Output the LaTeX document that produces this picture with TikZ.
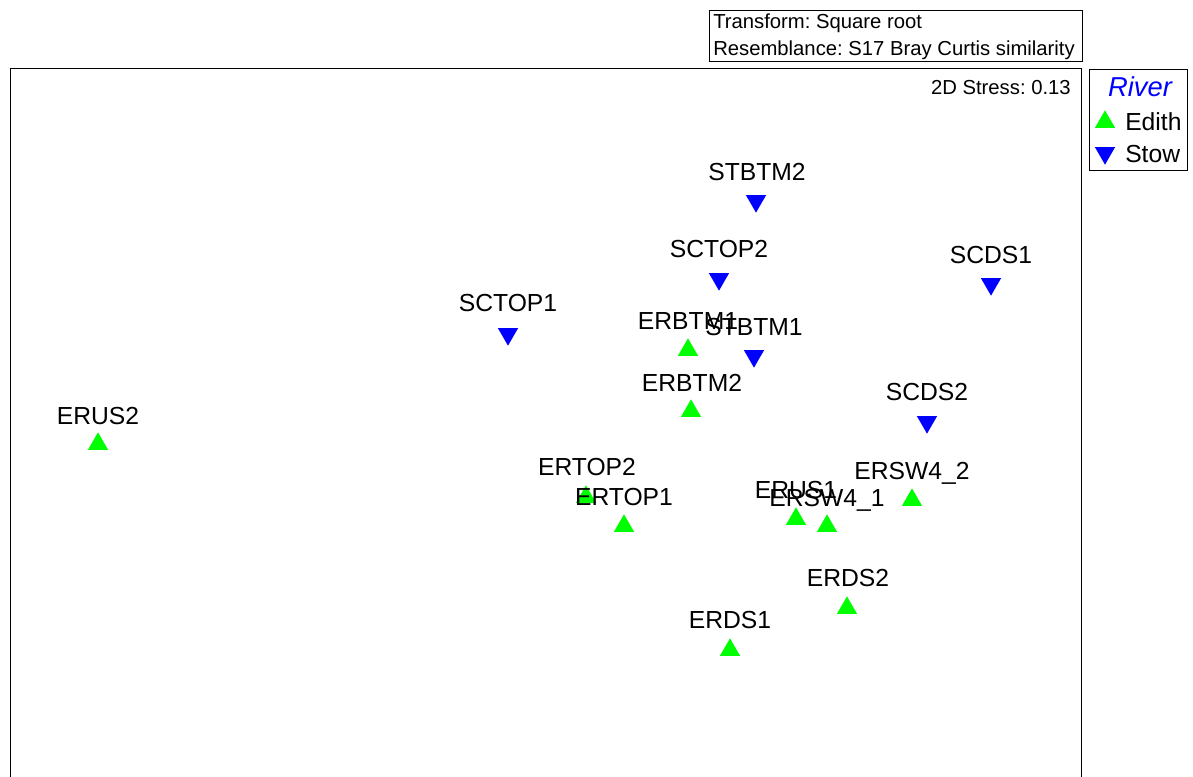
\documentclass[tikz,border=0pt]{standalone}
\usepackage{fontspec}
\setmainfont{Liberation Sans}
\usetikzlibrary{shapes.geometric}
\definecolor{edithgreen}{RGB}{0,255,0}
\definecolor{stowblue}{RGB}{0,0,255}
\frenchspacing
\begin{document}
\begin{tikzpicture}[x=0.75pt,y=-0.75pt,
  frameline/.style={draw=black,line width=0.75pt},
  upmark/.style={regular polygon,regular polygon sides=3,fill=edithgreen,draw=none,inner sep=0pt,minimum size=17.5pt},
  downmark/.style={regular polygon,regular polygon sides=3,shape border rotate=180,fill=stowblue,draw=none,inner sep=0pt,minimum size=17.5pt},
  lbl/.style={anchor=base,inner sep=0pt,font=\fontsize{18.5pt}{20pt}\selectfont},
  small/.style={font=\fontsize{15.2pt}{18pt}\selectfont,inner sep=0pt}]
\useasboundingbox (0,0) rectangle (1193,776);
% header box
\draw[frameline] (709,10) rectangle (1082,61);
\node[small,anchor=base west] (h1) at (713,28) {Transform: Square root};
\node[small,anchor=base west] (h2) at (713,55) {Resemblance: S17 Bray Curtis similarity};
% plot frame
\draw[frameline] (10,780) -- (10,68) -- (1081,68) -- (1081,780);
\node[small,anchor=base east] (stress) at (1071,94) {2D Stress: 0.13};
% legend
\draw[frameline] (1089,69) rectangle (1187,170);
\node[lbl,anchor=base,text=stowblue,font=\fontsize{20.5pt}{22pt}\selectfont\itshape] (river) at (1140,96) {River};
\node[upmark] (legE) at (1105,122) {};
\node[lbl,anchor=base west] (legEt) at (1125,130) {Edith};
\node[downmark] (legS) at (1105,153) {};
\node[lbl,anchor=base west] (legSt) at (1125,162) {Stow};
% Stow points
\node[downmark] (stbtm2) at (756,201) {};
\node[lbl] (stbtm2l) at (757,180) {STBTM2};
\node[downmark] (sctop2) at (719,279) {};
\node[lbl] (sctop2l) at (719,257) {SCTOP2};
\node[downmark] (scds1) at (991,284) {};
\node[lbl] (scds1l) at (991,263) {SCDS1};
\node[downmark] (sctop1) at (508,334) {};
\node[lbl] (sctop1l) at (508,311) {SCTOP1};
\node[downmark] (stbtm1) at (754,356) {};
\node[lbl] (stbtm1l) at (754,335) {STBTM1};
\node[downmark] (scds2) at (927,422) {};
\node[lbl] (scds2l) at (927,400) {SCDS2};
% Edith points
\node[upmark] (erbtm1) at (688,350) {};
\node[lbl] (erbtm1l) at (688,329) {ERBTM1};
\node[upmark] (erbtm2) at (691,411) {};
\node[lbl] (erbtm2l) at (692,391) {ERBTM2};
\node[upmark] (erus2) at (98,444) {};
\node[lbl] (erus2l) at (98,424) {ERUS2};
\node[upmark] (ertop2) at (586,497) {};
\node[lbl] (ertop2l) at (587,475) {ERTOP2};
\node[upmark] (ertop1) at (624,526) {};
\node[lbl] (ertop1l) at (624,505) {ERTOP1};
\node[upmark] (erus1) at (796,519) {};
\node[lbl] (erus1l) at (796,498) {ERUS1};
\node[upmark] (ersw41) at (827,526) {};
\node[lbl] (ersw41l) at (827,506) {ERSW4\_1};
\node[upmark] (ersw42) at (912,500) {};
\node[lbl] (ersw42l) at (912,479) {ERSW4\_2};
\node[upmark] (erds2) at (847,608) {};
\node[lbl] (erds2l) at (848,586) {ERDS2};
\node[upmark] (erds1) at (730,650) {};
\node[lbl] (erds1l) at (730,628) {ERDS1};
\end{tikzpicture}
\end{document}
